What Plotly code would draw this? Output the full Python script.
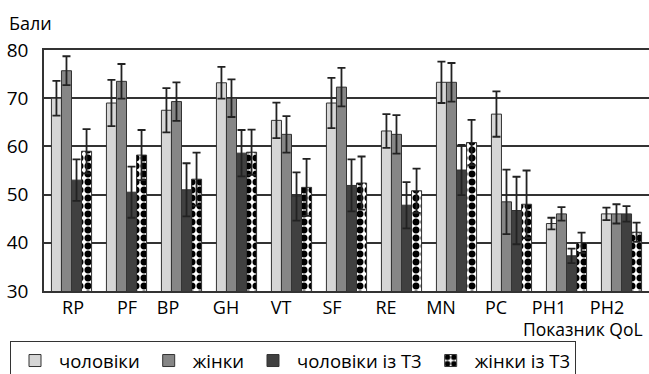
import plotly.graph_objects as go

categories = ["RP", "PF", "BP", "GH", "VT", "SF", "RE", "MN", "PC", "PH1", "PH2"]
series_names = ["чоловіки", "жінки", "чоловіки із Т3", "жінки із Т3"]

men = [70.0, 69.0, 67.5, 73.2, 65.4, 69.0, 63.2, 73.3, 66.7, 44.0, 46.0]
men_err = [3.6, 4.8, 4.6, 3.3, 3.7, 5.2, 3.5, 4.3, 4.7, 1.2, 1.3]
women = [75.7, 73.5, 69.3, 70.0, 62.5, 72.3, 62.5, 73.3, 48.5, 46.0, 46.0]
women_err = [3.0, 3.6, 4.0, 3.9, 3.8, 4.0, 4.0, 4.0, 6.7, 1.4, 2.0]
men_t3 = [53.0, 50.5, 51.0, 58.6, 49.6, 51.9, 47.8, 55.1, 46.7, 37.3, 46.0]
men_t3_err = [4.3, 5.3, 5.5, 4.8, 5.0, 5.4, 4.8, 5.2, 7.0, 1.5, 1.6]
women_t3 = [59.0, 58.2, 53.2, 58.8, 51.5, 52.4, 50.8, 60.8, 48.0, 40.0, 42.2]
women_t3_err = [4.6, 5.2, 5.5, 4.7, 5.9, 5.5, 4.6, 4.7, 7.0, 2.1, 2.0]

y_ticks = [30, 40, 50, 60, 70, 80]
y_title = "Бали"
x_title = "Показник QoL"

FONT = "Open Sans, Noto Sans, sans-serif"

W, H = 649, 374
ML, MR, MT, MB = 44, 0, 50, 83
PW, PH = W - ML - MR, H - MT - MB
PITCH = PW / len(categories)
# horizontal shift (px) of each category label relative to its bar group
TICK_SHIFT_PX = [1.5, 0.5, -13.5, -10.5, -10.5, -14.5, -15.5, -15.5, -15.5, -17.5, -14.5]


def px_x(px):
    return (px - ML) / PW


def px_y(py):
    return (H - MB - py) / PH


x_pos = list(range(len(categories)))

fills = ["#d6d6d6", "#868686", "#404040", None]
values = [men, women, men_t3, women_t3]
errors = [men_err, women_err, men_t3_err, women_t3_err]

fig = go.Figure()
for name, vals, errs, fill in zip(series_names, values, errors, fills):
    if fill is None:
        marker = dict(color="white", line=dict(color="#333333", width=1),
                      pattern=dict(shape=".", fgcolor="#000000", bgcolor="white",
                                   fgopacity=1, size=8, solidity=0.6))
    else:
        marker = dict(color=fill, line=dict(color="#333333", width=1))
    fig.add_trace(go.Bar(
        x=x_pos, y=vals, name=name, marker=marker,
        error_y=dict(type="data", array=errs, symmetric=True,
                     color="#222222", thickness=1.8, width=4),
    ))

fig.update_layout(
    width=W, height=H,
    margin=dict(l=ML, r=MR, t=MT, b=MB),
    barmode="group", bargap=0.27, bargroupgap=0,
    plot_bgcolor="white", paper_bgcolor="white",
    font=dict(family=FONT, size=18, color="black"),
    showlegend=True,
    legend=dict(orientation="h", xref="container", yref="container",
                x=10/W, y=(H-341)/H, xanchor="left", yanchor="top",
                bordercolor="#333333", borderwidth=1,
                font=dict(size=18.5), itemwidth=38, traceorder="normal"),
    xaxis=dict(range=[-0.5, len(categories) - 0.5],
               tickvals=[p + s / PITCH for p, s in zip(x_pos, TICK_SHIFT_PX)],
               ticktext=categories,
               showline=True, linecolor="#333333", linewidth=1.5, mirror=True,
               showgrid=False, ticks="", ticklabelstandoff=0,
               tickfont=dict(size=18)),
    yaxis=dict(range=[30, 80], tickvals=y_ticks, showgrid=True,
               gridcolor="#333333", gridwidth=1.5,
               showline=True, linecolor="#333333", linewidth=1.5,
               ticks="", ticklabelstandoff=10, zeroline=False,
               tickfont=dict(size=19)),
    annotations=[
        dict(text=y_title, xref="paper", yref="paper", x=px_x(7),
             y=px_y(23), xanchor="left", yanchor="middle",
             showarrow=False, font=dict(size=18)),
        dict(text=x_title, xref="paper", yref="paper", x=px_x(645),
             y=px_y(329), xanchor="right", yanchor="middle",
             showarrow=False, font=dict(size=17.5)),
    ],
)

fig.write_html("out.html", post_script="document.body.style.margin='0px';",
               config={"displayModeBar": False})
